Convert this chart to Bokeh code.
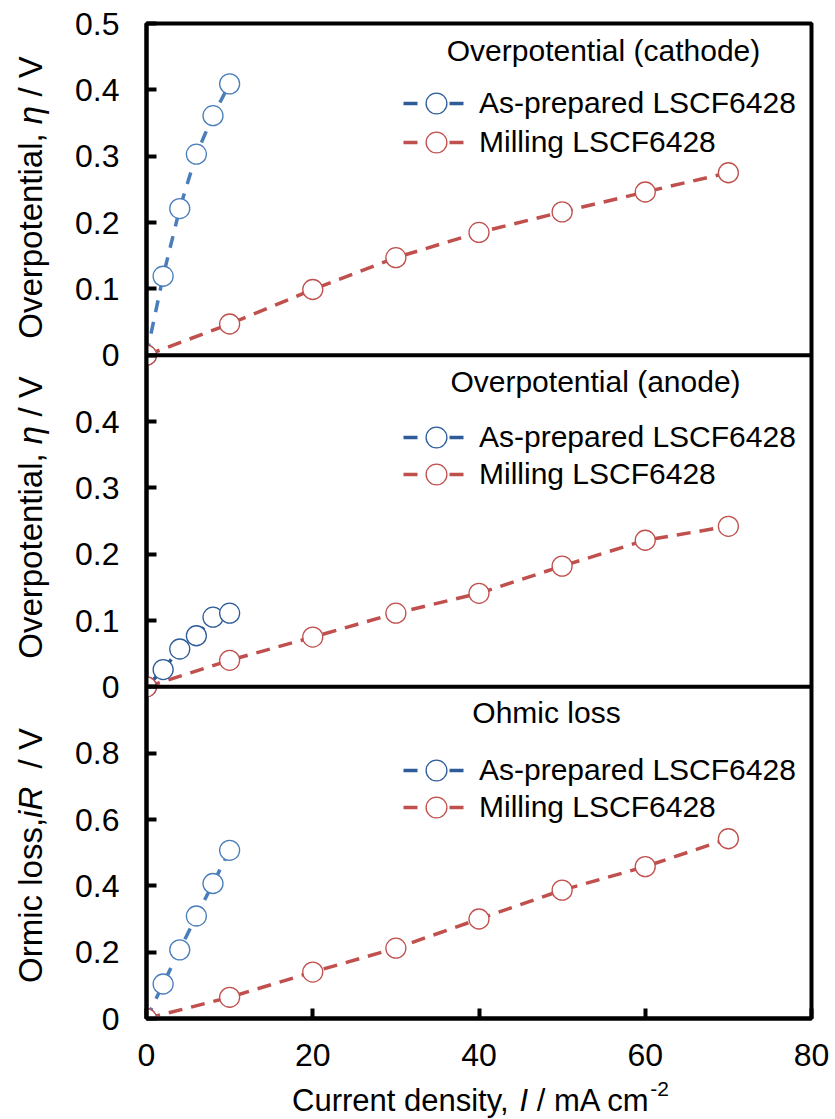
import math

from bokeh.plotting import figure
from bokeh.layouts import row, column
from bokeh.models import (Range1d, FixedTicker, Span, Label, Legend, LegendItem)
from bokeh.embed import file_html
from bokeh.resources import INLINE

# ---------------------------------------------------------------- data
# Current density, I / mA cm^-2
i_asprep = [0, 2, 4, 6, 8, 10]
i_milling = [0, 10, 20, 30, 40, 50, 60, 70]

# Cathode overpotential / V
cath_asprep = [0, 0.119, 0.221, 0.303, 0.361, 0.409]
cath_milling = [0, 0.047, 0.099, 0.147, 0.185, 0.216, 0.246, 0.275]

# Anode overpotential / V
anode_asprep = [0, 0.026, 0.057, 0.077, 0.105, 0.111]
anode_milling = [0, 0.040, 0.075, 0.111, 0.141, 0.182, 0.221, 0.242]

# Ohmic loss / V
ohmic_asprep = [0, 0.104, 0.207, 0.309, 0.407, 0.507]
ohmic_milling = [0, 0.064, 0.140, 0.212, 0.300, 0.387, 0.458, 0.542]

series_names = ["As-prepared LSCF6428", "Milling LSCF6428"]
panel_titles = ["Overpotential (cathode)", "Overpotential (anode)", "Ohmic loss"]

x_ticks = [0, 20, 40, 60, 80]
cath_ticks = [0, 0.1, 0.2, 0.3, 0.4, 0.5]
anode_ticks = [0, 0.1, 0.2, 0.3, 0.4]
ohmic_ticks = [0, 0.2, 0.4, 0.6, 0.8]
cath_tick_labels = ["0", "0.1", "0.2", "0.3", "0.4", "0.5"]
anode_tick_labels = ["0", "0.1", "0.2", "0.3", "0.4"]
ohmic_tick_labels = ["0", "0.2", "0.4", "0.6", "0.8"]

# ---------------------------------------------------------------- style
FONT = "Liberation Sans"
RED = "#C0504D"
BLUE = "#4A7EBB"
BLUE_DARK = "#2E5C99"

PAGE_W, PAGE_H = 835, 1119
YLAB_W = 60                    # strip holding the rotated y titles
XLAB_H = 41                    # strip holding the x title
FRAME_W, FRAME_H = 665, 995
LEFT, TOP = 146, 23            # frame origin on the page
RIGHT_PAD = PAGE_W - LEFT - FRAME_W
X_MAX = 80
PANELS = 3

# Each stacked panel is one unit of the shared vertical "panel" range:
# ohmic 0..1, anode 1..2, cathode 2..3.
p = figure(
    frame_width=FRAME_W, frame_height=FRAME_H,
    min_border_left=LEFT - YLAB_W, min_border_top=TOP,
    min_border_right=RIGHT_PAD,
    min_border_bottom=PAGE_H - XLAB_H - TOP - FRAME_H,
    x_range=Range1d(0, X_MAX), y_range=Range1d(0, PANELS),
    output_backend="svg", toolbar_location=None,
    background_fill_color="white", border_fill_color="white",
)
p.grid.visible = False
p.outline_line_color = "black"
p.outline_line_width = 4

# per-panel value ranges, each spanning the full frame height
cath_span = 0.5
anode_span = 0.5
ohmic_span = 1.0
p.extra_y_ranges = {
    "cath": Range1d(-2 * cath_span, cath_span),
    "anode": Range1d(-1 * anode_span, 2 * anode_span),
    "ohmic": Range1d(0, 3 * ohmic_span),
}

# y ticks: map every panel's values into the shared panel range
tick_pos, tick_txt = [], []
for base, span, vals, labs in [(0, ohmic_span, ohmic_ticks, ohmic_tick_labels),
                               (1, anode_span, anode_ticks, anode_tick_labels),
                               (2, cath_span, cath_ticks, cath_tick_labels)]:
    for v, t in zip(vals, labs):
        tick_pos.append(base + v / span)
        tick_txt.append(t)

yax = p.yaxis[0]
yax.ticker = FixedTicker(ticks=tick_pos)
yax.major_label_overrides = {pos: t for pos, t in zip(tick_pos, tick_txt)}
xax = p.xaxis[0]
xax.ticker = FixedTicker(ticks=x_ticks)

for ax in (xax, yax):
    ax.axis_line_width = 4
    ax.axis_line_color = "black"
    ax.major_tick_in = 10
    ax.major_tick_out = 0
    ax.major_tick_line_width = 4
    ax.major_tick_line_color = "black"
    ax.minor_tick_in = 0
    ax.minor_tick_out = 0
    ax.major_label_text_font = FONT
    ax.major_label_text_font_size = "32px"
    ax.major_label_text_color = "black"
yax.major_label_standoff = 27
xax.major_label_standoff = 25

# panel separators
for b in (1, 2):
    p.add_layout(Span(location=b, dimension="width", line_color="black", line_width=4))

# ---------------------------------------------------------------- series
panels = [
    ("cath", cath_asprep, cath_milling, BLUE, "12 10"),
    ("anode", anode_asprep, anode_milling, BLUE_DARK, "14 9"),
    ("ohmic", ohmic_asprep, ohmic_milling, BLUE, "12 10"),
]
glyphs = {}
for rng, ya, ym, bcol, bdash in panels:
    bl = p.line(i_asprep, ya, y_range_name=rng, line_color=bcol, line_width=3.5, line_dash=bdash)
    rl = p.line(i_milling, ym, y_range_name=rng, line_color=RED, line_width=3.5, line_dash="14 9")
    bc = p.scatter(i_asprep, ya, y_range_name=rng, marker="circle", size=20,
                   fill_color="white", line_color=bcol, line_width=1.3)
    rc = p.scatter(i_milling, ym, y_range_name=rng, marker="circle", size=20,
                   fill_color="white", line_color=RED, line_width=1.3)
    glyphs[rng] = ((bl, bc), (rl, rc))

# legend entries ("- o -" swatch), one legend per row
frame_bottom = TOP + FRAME_H
leg_rows = [(103, 142), (437, 474), (770, 807)]
for rows in leg_rows:
    for k, yc in enumerate(rows):
        leg = Legend(
            items=[LegendItem(label=series_names[k], renderers=list(glyphs["anode"][k]))],
            location=(403 - LEFT, frame_bottom - (yc + 26)), orientation="vertical",
            padding=0, margin=0, spacing=0,
            glyph_width=66, glyph_height=52, label_standoff=10,
            label_text_font=FONT, label_text_font_size="30px", label_text_color="black",
            border_line_color=None, background_fill_alpha=0,
        )
        p.add_layout(leg, "center")

# ---------------------------------------------------------------- texts
def cx(px):
    return (px - LEFT) * X_MAX / FRAME_W


def cy(py):
    return (frame_bottom - py) * PANELS / FRAME_H


for title, (tx, ty) in zip(panel_titles, [(603, 50), (595, 381), (546, 712)]):
    p.add_layout(Label(x=cx(tx), y=cy(ty), text=title, text_align="center",
                       text_baseline="middle", text_font=FONT,
                       text_font_size="30px", text_color="black"))

# Arial-metric advance widths (em)
W = {"O": .778, "v": .5, "e": .556, "r": .333, "p": .556, "t": .278, "n": .556,
     "i": .222, "a": .556, "l": .222, ",": .278, " ": .278, "η": .556, "/": .278,
     "V": .667, "m": .833, "c": .5, "s": .5, "o": .556, "R": .722, "C": .722,
     "u": .556, "d": .556, "y": .5, "I": .278, "A": .667, "-": .333, "2": .556}


def width(s, size):
    return sum(W.get(ch, .556) for ch in s) * size


def rich_pieces(pieces):
    """(text, style, size, rise, spaces_after) -> list with running offsets in px"""
    out, pos = [], 0.0
    for text, style, size, rise, gap in pieces:
        out.append((text, style, size, rise, pos))
        pos += width(text, size) + gap * W[" "] * size
    return out, pos


def text_strip(x0, y0, w, h, border_left=0, border_right=0):
    """A bare strip whose data units are page pixels (y measured from the page top)."""
    f = figure(frame_width=w, frame_height=h,
               min_border_left=border_left, min_border_right=border_right,
               min_border_top=0, min_border_bottom=0,
               x_range=Range1d(x0, x0 + w), y_range=Range1d(y0 + h, y0),
               x_axis_type=None, y_axis_type=None,
               output_backend="svg", toolbar_location=None,
               background_fill_color="white", border_fill_color="white")
    f.outline_line_color = None
    f.grid.visible = False
    return f


# rotated y titles
ylab = text_strip(0, 0, YLAB_W, PAGE_H)
eta_title = [("Overpotential,", "normal", 33, 0, 1), ("η", "italic", 33, 0, 1),
             ("/ V", "normal", 33, 0, 0)]
ohm_title = [("Ormic loss,", "normal", 33, 0, 0), ("iR", "italic", 33, 0, 2),
             ("/ V", "normal", 33, 0, 0)]
for pieces, center in [(eta_title, 197), (eta_title, 517), (ohm_title, 855)]:
    parts, total = rich_pieces(pieces)
    start = center + total / 2
    for text, style, size, rise, off in parts:
        ylab.add_layout(Label(x=30, y=start - off, text=text, angle=math.pi / 2,
                              text_align="left", text_baseline="middle", text_font=FONT,
                              text_font_style=style, text_font_size=f"{size}px",
                              text_color="black"))

# x title with italic symbol and superscript exponent (frame aligned with the plot frame)
xlab = text_strip(LEFT, PAGE_H - XLAB_H, FRAME_W, XLAB_H,
                  border_left=LEFT - YLAB_W, border_right=RIGHT_PAD)
parts, total = rich_pieces([("Current density,", "normal", 31, 0, 1), ("I", "italic", 31, 0, 1),
                            ("/ mA cm", "normal", 31, 0, 0), ("-2", "normal", 21, 12, 0)])
x0 = 480 - total / 2
for text, style, size, rise, off in parts:
    xlab.add_layout(Label(x=x0 + off, y=1100 - rise, text=text,
                          text_align="left", text_baseline="alphabetic", text_font=FONT,
                          text_font_style=style, text_font_size=f"{size}px",
                          text_color="black"))

layout = row(ylab, column(p, xlab))
open("out.html", "w").write(file_html(layout, INLINE))
